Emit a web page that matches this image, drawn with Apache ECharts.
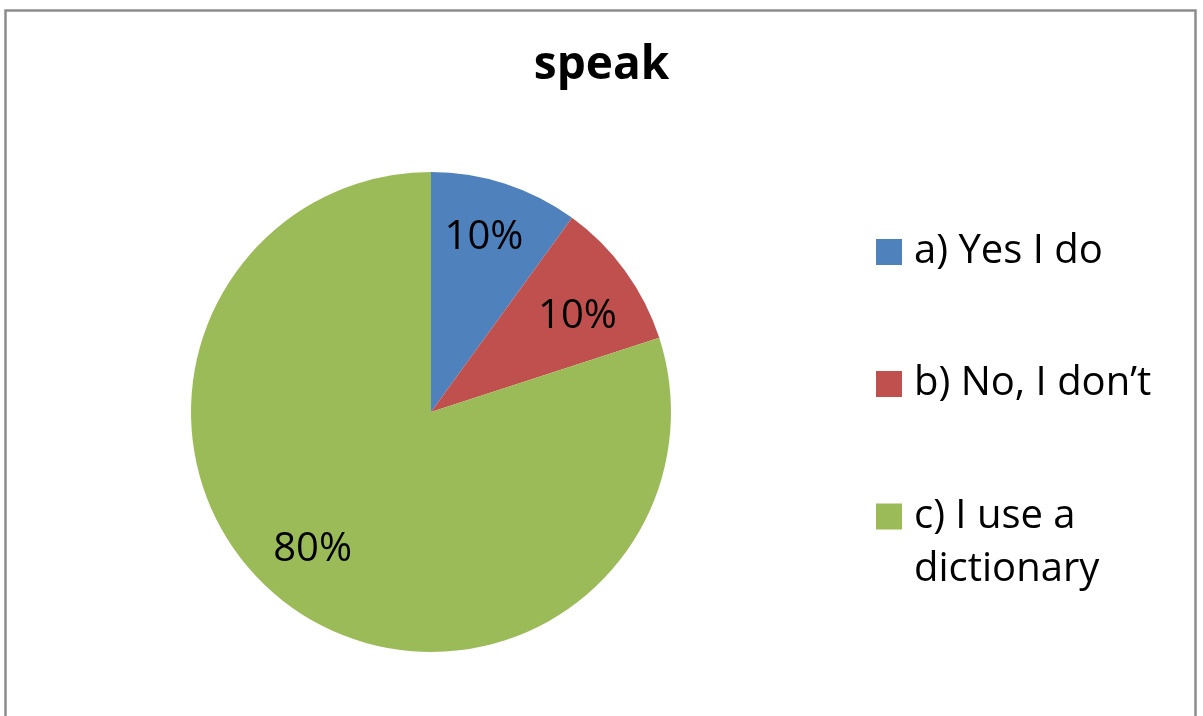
<!DOCTYPE html>
<html><head><meta charset="utf-8">
<script src="https://cdn.jsdelivr.net/npm/echarts@6/dist/echarts.min.js"></script>
<style>html,body{margin:0;padding:0;background:#fff}#c{width:1203px;height:716px}</style>
</head><body><div id="c"></div>
<script>
const titleText = 'speak';
const categories = ['a) Yes I do', 'b) No, I don’t', 'c) I use a dictionary'];
const legendLabels = ['a) Yes I do', 'b) No, I don’t', 'c) I use a\ndictionary'];
const values = [10, 10, 80];
const colors = ['#4f81bd', '#c0504d', '#9bbb59'];

const FONT = '"Open Sans", "Noto Sans", sans-serif';
const labelOffsets = [[-3, -2], [0, 11], [-12, -9]];
const data = categories.map((n, i) => ({ name: n, value: values[i], itemStyle: { color: colors[i] } }));
const legendTops = [225.5, 357.5, 437];

const chart = echarts.init(document.getElementById('c'), null, { renderer: 'canvas' });
chart.setOption({
  animation: false,
  backgroundColor: '#fff',
  title: {
    text: titleText, left: 'center', top: 38,
    textStyle: { fontFamily: FONT, fontWeight: 'bold', fontSize: 46, color: '#000' }
  },
  graphic: [{
    type: 'rect', silent: true,
    shape: { x: 5.5, y: 10.5, width: 1190, height: 740 },
    style: { fill: 'none', stroke: '#8c8c8c', lineWidth: 2.5 }
  }],
  legend: categories.map((n, i) => ({
    data: [n], orient: 'vertical', left: 876, top: legendTops[i], padding: 0,
    itemWidth: 26, itemHeight: 26, icon: 'rect', selectedMode: false,
    formatter: () => (i === 2 ? '\n' : '') + legendLabels[i],
    textStyle: { fontFamily: FONT, fontSize: 40, color: '#000', lineHeight: 53, padding: [0, 0, 0, 7] }
  })),
  series: [{
    type: 'pie', center: [431, 412], radius: [0, 240], startAngle: 90, clockwise: true,
    data: data, label: { show: false }, labelLine: { show: false },
    itemStyle: { borderWidth: 0 }, silent: true
  }, {
    type: 'pie', center: [431, 412], radius: [116, 240], startAngle: 90, clockwise: true,
    data: data.map((d, i) => ({
      name: d.name, value: d.value, itemStyle: { color: 'rgba(0,0,0,0)' },
      label: { offset: labelOffsets[i] }
    })),
    label: { show: true, position: 'inside', formatter: '{c}%', fontFamily: FONT, fontSize: 40, color: '#000' },
    labelLine: { show: false }, itemStyle: { borderWidth: 0 }, silent: true,
    emphasis: { disabled: true }
  }]
});
</script></body></html>
